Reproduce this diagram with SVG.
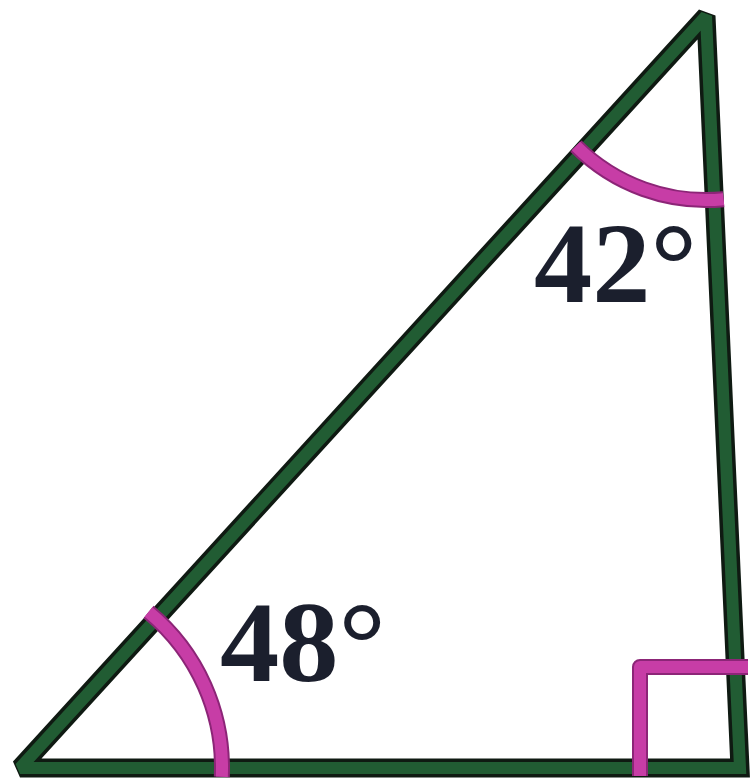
<svg xmlns="http://www.w3.org/2000/svg" width="751" height="783" viewBox="0 0 751 783">
<style>
.edge-o{fill:none;stroke:#0f1a12;stroke-width:19;stroke-linejoin:miter;stroke-miterlimit:2}
.edge-i{fill:none;stroke:#215c33;stroke-width:12;stroke-linejoin:miter;stroke-miterlimit:2}
.mark-o{fill:none;stroke:#8c2577;stroke-width:16;stroke-linecap:butt;stroke-linejoin:round}
.mark-i{fill:none;stroke:#c73da6;stroke-width:12;stroke-linecap:butt;stroke-linejoin:round}
.lbl{font-family:"Liberation Serif","Times New Roman",serif;font-weight:bold;font-size:114px;fill:#1b1f2d}
</style>
<rect width="751" height="783" fill="#ffffff"/>
<g id="connectors">
<polygon class="edge-o" points="20,768 706,16 740,768"/>
<polygon class="edge-i" points="20,768 706,16 740,768"/>
</g>
<g id="angle-bottom-left">
<path class="mark-o" d="M221.8,776.8 A202,202 0 0 0 148.5,612"/>
<path class="mark-i" d="M221.8,776.8 A202,202 0 0 0 148.5,612"/>
<text class="lbl" x="220" y="681" textLength="166" lengthAdjust="spacingAndGlyphs">48°</text>
</g>
<g id="angle-top">
<path class="mark-o" d="M575.9,146.1 A184,184 0 0 0 723.6,199.2"/>
<path class="mark-i" d="M575.9,146.1 A184,184 0 0 0 723.6,199.2"/>
<text class="lbl" x="534" y="302" textLength="163" lengthAdjust="spacingAndGlyphs">42°</text>
</g>
<g id="right-angle">
<path class="mark-o" d="M640,776 V667 H748"/>
<path class="mark-i" d="M640,776 V667 H748"/>
</g>
</svg>
